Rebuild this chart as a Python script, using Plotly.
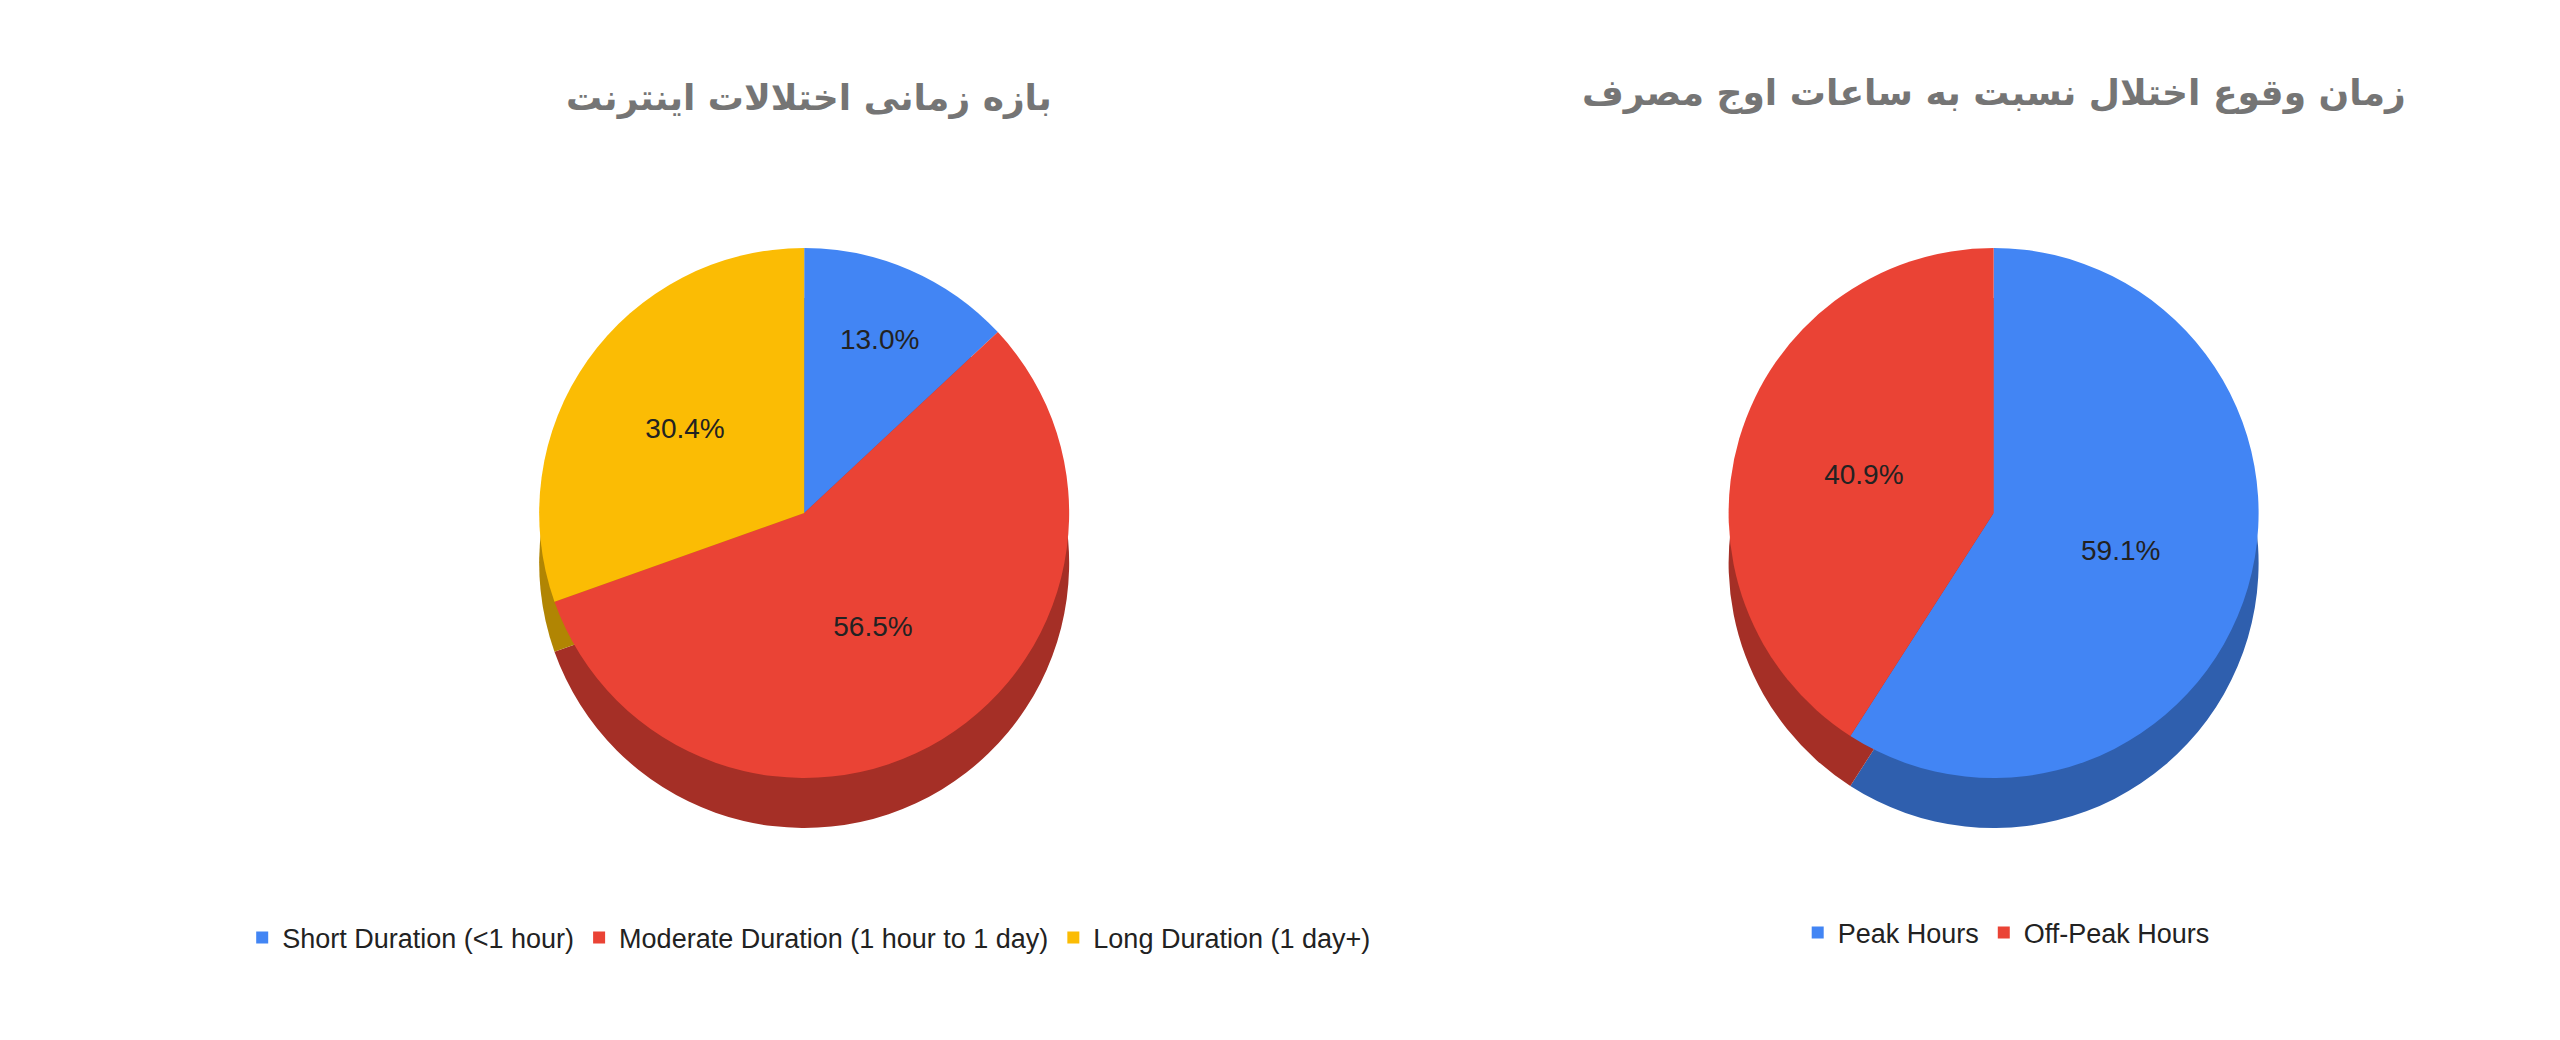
import plotly.graph_objects as go

dur_labels = ["Short Duration (<1 hour)", "Moderate Duration (1 hour to 1 day)", "Long Duration (1 day+)"]
dur_values = [3, 13, 7]
dur_colors = ["#4285f4", "#ea4335", "#fbbc04"]
dur_dark = ["#2f5fae", "#a52f26", "#b18503"]

peak_labels = ["Peak Hours", "Off-Peak Hours"]
peak_values = [13, 9]
peak_colors = ["#4285f4", "#ea4335"]
peak_dark = ["#2f5fae", "#a52f26"]

title_left = "بازه زمانی اختلالات اینترنت"
title_right = "زمان وقوع اختلال نسبت به ساعات اوج مصرف"

fig = go.Figure()

def add_pie(labels, values, colors, dark, xdom, legend):
    # darker copy underneath to fake the 3d edge
    fig.add_trace(go.Pie(labels=labels, values=values, sort=False, direction="clockwise",
                         marker=dict(colors=dark), textinfo="none", hoverinfo="skip",
                         showlegend=False, domain=dict(x=xdom, y=[0.2, 0.73])))
    fig.add_trace(go.Pie(labels=labels, values=values, sort=False, direction="clockwise",
                         marker=dict(colors=colors), textinfo="percent", texttemplate="%{percent:.1%}",
                         textposition="inside", insidetextorientation="horizontal",
                         textfont=dict(size=28, color="#222222", family="Liberation Sans, Arial"),
                         legend=legend, domain=dict(x=xdom, y=[0.25, 0.78])))

add_pie(dur_labels, dur_values, dur_colors, dur_dark, [0.16, 0.456], "legend")
add_pie(peak_labels, peak_values, peak_colors, peak_dark, [0.632, 0.928], "legend2")

fig.update_layout(
    width=2560, height=1040, paper_bgcolor="white", plot_bgcolor="white",
    margin=dict(l=20, r=20, t=20, b=20),
    font=dict(family="Liberation Sans, Arial", color="#222222"),
    legend=dict(orientation="h", x=0.31, xanchor="center", y=0.09, yanchor="middle",
                font=dict(size=27), itemsizing="constant"),
    legend2=dict(orientation="h", x=0.785, xanchor="center", y=0.095, yanchor="middle",
                 font=dict(size=27), itemsizing="constant"),
    annotations=[
        dict(text="<b>" + title_left + "</b>", x=0.31, y=0.93, xref="paper", yref="paper", showarrow=False,
             font=dict(size=36, color="#757575", family="DejaVu Sans"), xanchor="center", yanchor="middle"),
        dict(text="<b>" + title_right + "</b>", x=0.78, y=0.935, xref="paper", yref="paper", showarrow=False,
             font=dict(size=36, color="#757575", family="DejaVu Sans"), xanchor="center", yanchor="middle"),
    ],
)

fig.write_html("out.html")
